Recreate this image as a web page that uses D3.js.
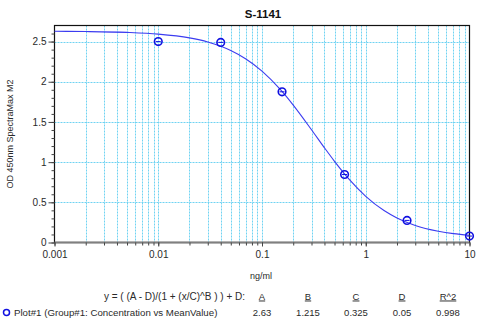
<!DOCTYPE html>
<html><head><meta charset="utf-8">
<script src="https://cdn.jsdelivr.net/npm/d3@7"></script>
<style>body{margin:0;background:#fff}svg{display:block;font-family:"Liberation Sans",Arial,sans-serif}</style>
</head><body><svg id="c" width="486" height="332"></svg>
<script>
const title = "S-1141";
const yLabel = "OD 450nm SpectraMax M2";
const xLabel = "ng/ml";
const pointX = [0.01, 0.04, 0.156, 0.625, 2.5, 10];
const pointY = [2.50, 2.49, 1.875, 0.846, 0.275, 0.08];
const curveX = [0.001,0.002,0.005,0.01,0.02,0.03,0.05,0.07,0.1,0.15,0.2,0.3,0.4,0.5,0.7,1,1.5,2,3,5,7,10];
const curveY = [2.628,2.625,2.614,2.593,2.546,2.495,2.389,2.284,2.133,1.905,1.710,1.403,1.178,1.010,0.779,0.575,0.398,0.306,0.212,0.140,0.110,0.0895];
const xTickValues = [0.001, 0.01, 0.1, 1, 10];
const xTickLabels = ["0.001", "0.01", "0.1", "1", "10"];
const yTickValues = [0, 0.5, 1, 1.5, 2, 2.5];
const yTickLabels = ["0", "0.5", "1", "1.5", "2", "2.5"];
const equation = "y = ( (A - D)/(1 + (x/C)^B ) ) + D:";
const paramNames = ["A", "B", "C", "D", "R^2"];
const paramValues = ["2.63", "1.215", "0.325", "0.05", "0.998"];
const legendLabel = "Plot#1 (Group#1: Concentration vs MeanValue)";

const svg = d3.select("#c");
const L = 54.5, R = 469.5, T = 25.5, B = 242.5;
const x = d3.scaleLog().domain([0.001, 10]).range([L, R]);
const y = d3.scaleLinear().domain([0, 2.7]).range([B, T]);
const txt = "#2a2a2a";

const minorX = [];
for (let e = -3; e < 1; e++) for (let m = 1; m < 10; m++) minorX.push(m * Math.pow(10, e));
minorX.push(10);
const gridCol = "#6fd3f2";
// vertical grid
svg.append("g").selectAll("line").data(minorX.filter(v => v > 0.001 && v < 10)).join("line")
  .attr("x1", d => Math.round(x(d)) + 0.5).attr("x2", d => Math.round(x(d)) + 0.5)
  .attr("y1", T).attr("y2", B).attr("stroke", gridCol).attr("stroke-width", 1)
  .attr("stroke-dasharray", "2,1");
// horizontal grid
svg.append("g").selectAll("line").data(yTickValues.filter(v => v > 0)).join("line")
  .attr("x1", L).attr("x2", R).attr("y1", d => Math.round(y(d)) + 0.5).attr("y2", d => Math.round(y(d)) + 0.5)
  .attr("stroke", gridCol).attr("stroke-width", 1).attr("stroke-dasharray", "2,1");

// frame
svg.append("rect").attr("x", L).attr("y", T).attr("width", R - L).attr("height", B - T)
  .attr("fill", "none").attr("stroke", "#111").attr("stroke-width", 1.2);
// zero line
svg.append("line").attr("x1", L).attr("x2", R).attr("y1", y(0)).attr("y2", y(0))
  .attr("stroke", "#808080").attr("stroke-width", 2);

// y axis
const yMinor = d3.range(0, 27).map(i => i / 10);
const yAx = d3.axisLeft(y).tickValues(yMinor).tickSize(3).tickFormat("");
svg.append("g").attr("transform", `translate(${L},0)`).call(yAx)
  .call(g => g.select(".domain").remove())
  .call(g => g.selectAll("line").attr("stroke", "#444"));
const yMaj = d3.axisLeft(y).tickValues(yTickValues).tickSize(6).tickPadding(2)
  .tickFormat((d, i) => yTickLabels[i]);
svg.append("g").attr("transform", `translate(${L},0)`).call(yMaj)
  .call(g => g.select(".domain").remove())
  .call(g => g.selectAll("line").attr("stroke", "#444"))
  .call(g => g.selectAll("text").attr("font-size", 10).attr("fill", txt).attr("font-family", "Liberation Sans, Arial"));

// x axis
const xAxMinor = d3.axisBottom(x).tickValues(minorX).tickSize(3).tickFormat("");
svg.append("g").attr("transform", `translate(0,${B})`).call(xAxMinor)
  .call(g => g.select(".domain").remove())
  .call(g => g.selectAll("line").attr("stroke", "#444"));
const xAx = d3.axisBottom(x).tickValues(xTickValues).tickSize(4).tickPadding(4)
  .tickFormat((d, i) => xTickLabels[i]);
svg.append("g").attr("transform", `translate(0,${B})`).call(xAx)
  .call(g => g.select(".domain").remove())
  .call(g => g.selectAll("line").attr("stroke", "#444"))
  .call(g => g.selectAll("text").attr("font-size", 10).attr("fill", txt).attr("font-family", "Liberation Sans, Arial"));

// curve
const line = d3.line().x((d, i) => x(curveX[i])).y((d, i) => y(curveY[i])).curve(d3.curveMonotoneX);
svg.append("path").datum(curveY).attr("d", line).attr("fill", "none")
  .attr("stroke", "#3c3cf0").attr("stroke-width", 1.1);

// points
const pts = svg.append("g");
pts.selectAll("circle").data(pointY).join("circle")
  .attr("cx", (d, i) => x(pointX[i])).attr("cy", d => y(d)).attr("r", 3.8)
  .attr("fill", "none").attr("stroke", "#1010e0").attr("stroke-width", 1.6);
pts.selectAll("line").data(pointY).join("line")
  .attr("x1", (d, i) => x(pointX[i]) - 2.5).attr("x2", (d, i) => x(pointX[i]) + 2.5)
  .attr("y1", d => y(d)).attr("y2", d => y(d))
  .attr("stroke", "#1010e0").attr("stroke-width", 1);

// title
svg.append("text").attr("x", 263).attr("y", 17.5).attr("text-anchor", "middle")
  .attr("font-size", 11.5).attr("font-weight", "bold").attr("fill", "#111").text(title);
// y label
svg.append("text").attr("transform", `translate(13,${(T + B) / 2}) rotate(-90)`)
  .attr("text-anchor", "middle").attr("font-size", 9).attr("fill", txt).text(yLabel);
// x label
svg.append("text").attr("x", 261).attr("y", 278.5).attr("text-anchor", "middle")
  .attr("font-size", 9).attr("fill", txt).text(xLabel);

// equation & params
svg.append("text").attr("x", 245).attr("y", 299.5).attr("text-anchor", "end")
  .attr("font-size", 10).attr("fill", txt).text(equation);
const colX = [262, 308, 356, 402, 448];
paramNames.forEach((n, i) => {
  svg.append("text").attr("x", colX[i]).attr("y", 299.5).attr("text-anchor", "middle")
    .attr("font-size", 9.5).attr("fill", txt).attr("text-decoration", "underline").text(n);
  svg.append("text").attr("x", colX[i]).attr("y", 315.5).attr("text-anchor", "middle")
    .attr("font-size", 9.5).attr("fill", txt).text(paramValues[i]);
});
// legend
svg.append("circle").attr("cx", 6.5).attr("cy", 312.5).attr("r", 3).attr("fill", "none")
  .attr("stroke", "#1010e0").attr("stroke-width", 1.5);
svg.append("text").attr("x", 14).attr("y", 315.5).attr("font-size", 9.7).attr("fill", txt).text(legendLabel);
</script></body></html>
